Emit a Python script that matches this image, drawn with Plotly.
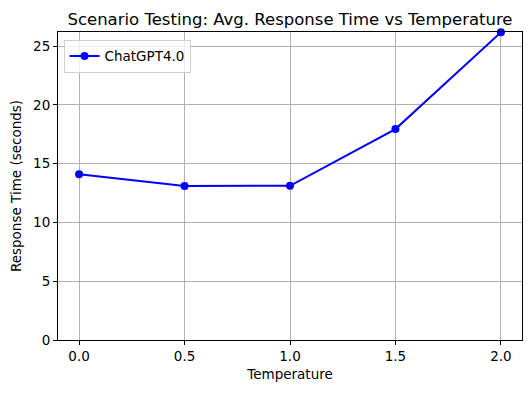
import plotly.graph_objects as go

temperature = [0.0, 0.5, 1.0, 1.5, 2.0]
response_time = [14.1, 13.1, 13.12, 17.94, 26.17]
series_name = "ChatGPT4.0"
x_ticks = [0.0, 0.5, 1.0, 1.5, 2.0]
x_tick_labels = ["0.0", "0.5", "1.0", "1.5", "2.0"]
y_ticks = [0, 5, 10, 15, 20, 25]

fig = go.Figure()
fig.add_trace(go.Scatter(
    x=temperature, y=response_time, name=series_name,
    mode="lines+markers",
    line=dict(color="#0000ff", width=2),
    marker=dict(color="#0000ff", size=8, symbol="circle"),
    cliponaxis=False,
))

axis_common = dict(
    showline=True, linecolor="black", linewidth=1, mirror=True,
    ticks="outside", ticklen=4, tickcolor="black", tickwidth=1,
    showgrid=True, gridcolor="#b0b0b0", gridwidth=0.8,
    zeroline=False, automargin=False,
    tickfont=dict(family="DejaVu Sans", size=13.5, color="black"),
)

# page body has an 8px default margin, so the figure is sized to fit the window
W, H = 523, 385
fig.update_layout(
    width=W, height=H,
    margin=dict(l=49.5, r=9, t=24, b=53, autoexpand=False),
    paper_bgcolor="white", plot_bgcolor="white",
    font=dict(family="DejaVu Sans", size=13.5, color="black"),
    title=dict(text="Scenario Testing: Avg. Response Time vs Temperature",
               xref="paper", x=0.5, xanchor="center",
               yref="container", y=1 - 11 / H, yanchor="middle",
               font=dict(family="DejaVu Sans", size=16.5, color="black")),
    xaxis=dict(range=[-0.1, 2.1], tickvals=x_ticks, ticktext=x_tick_labels,
               title=dict(text="Temperature", standoff=6,
                          font=dict(family="DejaVu Sans", size=13.5)),
               **axis_common),
    yaxis=dict(range=[0, 26.2], tickvals=y_ticks,
               title=dict(text="Response Time (seconds)", standoff=8,
                          font=dict(family="DejaVu Sans", size=13.5)),
               **axis_common),
    showlegend=True,
    legend=dict(x=0.012, y=0.975, xanchor="left", yanchor="top",
                bgcolor="rgba(255,255,255,0.8)", bordercolor="#d0d0d0",
                borderwidth=1, font=dict(family="DejaVu Sans", size=13.5),
                itemwidth=30, tracegroupgap=0),
)

fig.write_html("out.html")
